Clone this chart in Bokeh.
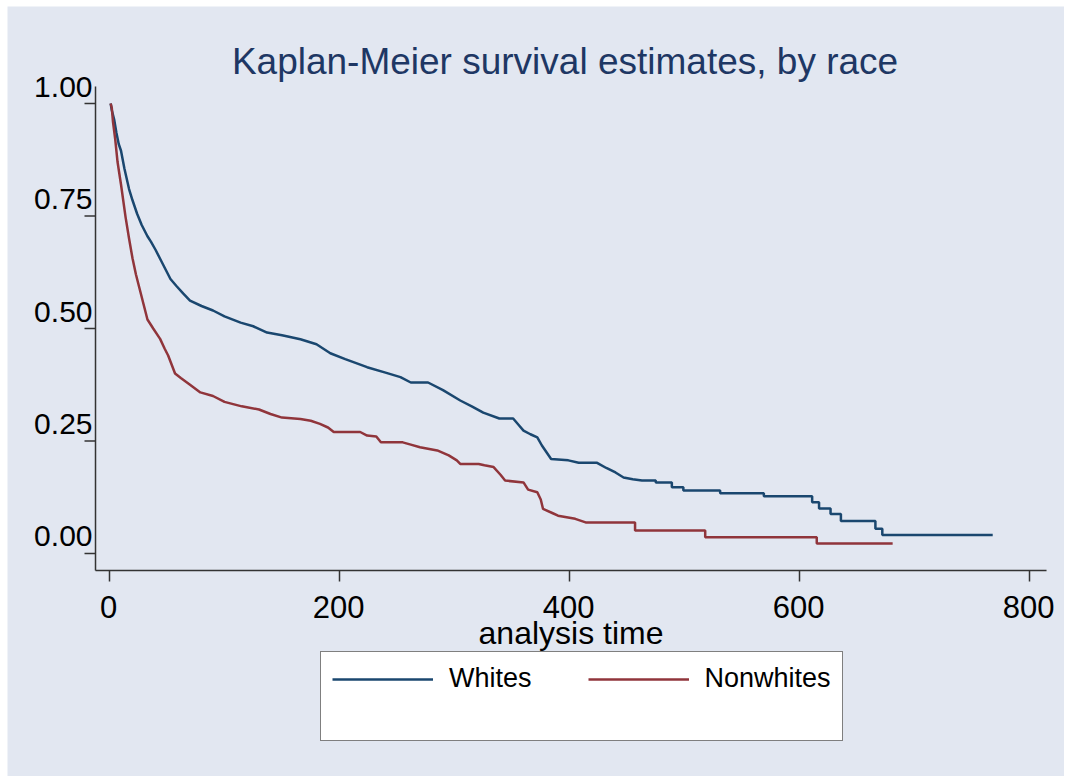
import math
from bokeh.plotting import figure
from bokeh.models import Range1d, Legend, LegendItem, Spacer
from bokeh.core.properties import value
from bokeh.layouts import row, column
from bokeh.embed import file_html
from bokeh.resources import INLINE

# ---- data: vertices of the Kaplan-Meier curves ----
WHITES_T = [1, 2, 4, 6, 8, 10, 13, 17, 20, 24, 28, 33, 36, 40, 45, 50, 53, 58, 64, 70,
            80, 90, 100, 114, 125, 137, 150, 166, 180, 192, 205, 224, 240, 253, 262, 277,
            290, 305, 315, 325, 339, 351, 356, 360, 366, 372, 376, 380, 384, 399, 408, 424,
            432, 440, 447, 455, 463, 475, 475, 489, 489, 499, 499, 531, 531, 569, 569,
            611, 611, 617, 617, 627, 627, 636, 636, 666, 666, 672, 672, 768]
WHITES_S = [1.0, 0.985, 0.965, 0.935, 0.91, 0.895, 0.855, 0.81, 0.785, 0.755, 0.73, 0.705,
            0.693, 0.675, 0.65, 0.625, 0.61, 0.595, 0.578, 0.562, 0.55, 0.54, 0.527, 0.513,
            0.505, 0.491, 0.485, 0.476, 0.465, 0.445, 0.432, 0.414, 0.402, 0.392, 0.38, 0.38,
            0.363, 0.34, 0.327, 0.313, 0.30, 0.30, 0.285, 0.273, 0.265, 0.258, 0.24, 0.225,
            0.21, 0.207, 0.2015, 0.2015, 0.19, 0.18, 0.169, 0.165, 0.162, 0.162, 0.158, 0.158,
            0.147, 0.147, 0.14, 0.14, 0.134, 0.134, 0.127, 0.127, 0.114, 0.114, 0.10, 0.10,
            0.088, 0.088, 0.072, 0.072, 0.055, 0.055, 0.041, 0.041]

NONWHITES_T = [1, 2, 3, 5, 7, 10, 14, 17, 20, 23, 26, 30, 33, 38, 44, 48, 51, 54, 57, 62,
               70, 79, 90, 100, 115, 130, 140, 150, 166, 175, 183, 190, 195, 218, 224, 232,
               236, 255, 262, 270, 285, 295, 302, 305, 321, 326, 334, 340, 344, 360, 364,
               372, 375, 377, 385, 390, 405, 414, 457, 457, 518, 518, 615, 615, 681]
NONWHITES_S = [1.0, 0.99, 0.96, 0.92, 0.87, 0.82, 0.747, 0.70, 0.656, 0.62, 0.59, 0.55,
               0.52, 0.50, 0.477, 0.455, 0.44, 0.42, 0.40, 0.39, 0.375, 0.358, 0.35, 0.337,
               0.327, 0.32, 0.31, 0.302, 0.299, 0.295, 0.288, 0.28, 0.27, 0.27, 0.262, 0.26,
               0.247, 0.247, 0.242, 0.236, 0.229, 0.218, 0.207, 0.199, 0.199, 0.196, 0.192,
               0.175, 0.162, 0.158, 0.142, 0.136, 0.12, 0.099, 0.09, 0.084, 0.077, 0.069,
               0.069, 0.051, 0.051, 0.036, 0.036, 0.022, 0.022]

X_TICKS = [0, 200, 400, 600, 800]
X_TICK_LABELS = ["0", "200", "400", "600", "800"]
Y_TICKS = [0.0, 0.25, 0.5, 0.75, 1.0]
Y_TICK_LABELS = ["0.00", "0.25", "0.50", "0.75", "1.00"]
SERIES_NAMES = ["Whites", "Nonwhites"]
TITLE = "Kaplan-Meier survival estimates, by race"
X_LABEL = "analysis time"

BG = "#E2E7F1"
AXIS_COLOR = "#333333"
FONT = "Liberation Sans"
# the frame fills the whole figure; axes, title and legend are drawn inside it
X_START, X_END = -88.70, 830.43
Y_START, Y_END = -0.4956, 1.2156
AX_X0, AX_X1 = -12.17, 814.8        # x-axis extent (y axis sits at AX_X0)
AX_Y0, AX_Y1 = -0.0378, 1.0378      # y-axis extent (x axis sits at AX_Y0)
AX_XMID = (AX_X0 + AX_X1) / 2

p = figure(width=1057, height=770, output_backend="svg", toolbar_location=None,
           x_range=Range1d(X_START, X_END), y_range=Range1d(Y_START, Y_END),
           x_axis_location=None, y_axis_location=None)
p.min_border_left = 0
p.min_border_right = 0
p.min_border_top = 0
p.min_border_bottom = 0
p.background_fill_color = BG
p.border_fill_color = BG
p.outline_line_color = None
p.xgrid.visible = False
p.ygrid.visible = False

# title
p.text(x=[AX_XMID], y=[AX_Y1], text=[TITLE], x_offset=-6, y_offset=-25,
       text_align="center", text_baseline="middle", text_font=value(FONT),
       text_font_size="37px", text_color="#1E3764")

# axis lines
p.segment(x0=[AX_X0, AX_X0], y0=[AX_Y0, AX_Y0], x1=[AX_X1, AX_X0], y1=[AX_Y0, AX_Y1],
          line_color=AXIS_COLOR, line_width=1.5)
# y ticks + labels
p.ray(x=[AX_X0] * len(Y_TICKS), y=Y_TICKS, length=11, length_units="screen",
      angle=math.pi, line_color=AXIS_COLOR, line_width=1.5)
p.text(x=[AX_X0] * len(Y_TICKS), y=Y_TICKS, text=Y_TICK_LABELS, x_offset=-3, y_offset=-17,
       text_align="right", text_baseline="middle", text_font=value(FONT),
       text_font_size="30px", text_color="black")
# x ticks + labels
p.ray(x=X_TICKS, y=[AX_Y0] * len(X_TICKS), length=11, length_units="screen",
      angle=-math.pi / 2, line_color=AXIS_COLOR, line_width=1.5)
p.text(x=X_TICKS, y=[AX_Y0] * len(X_TICKS), text=X_TICK_LABELS, x_offset=-1, y_offset=36,
       text_align="center", text_baseline="middle", text_font=value(FONT),
       text_font_size="31px", text_color="black")
p.text(x=[AX_XMID], y=[AX_Y0], text=[X_LABEL], y_offset=62,
       text_align="center", text_baseline="middle", text_font=value(FONT),
       text_font_size="32px", text_color="black")

r_w = p.line(WHITES_T, WHITES_S, line_color="#1A476F", line_width=2.5)
r_n = p.line(NONWHITES_T, NONWHITES_S, line_color="#90353B", line_width=2.5)

legend = Legend(items=[LegendItem(label=SERIES_NAMES[0], renderers=[r_w]),
                       LegendItem(label=SERIES_NAMES[1], renderers=[r_n])],
                location=(313, 35), orientation="horizontal",
                glyph_width=101, glyph_height=20, label_standoff=16, spacing=56,
                padding=11, margin=0,
                label_text_font=FONT, label_text_font_size="27px", label_text_color="black",
                border_line_color="black", border_line_width=1,
                background_fill_color="white", background_fill_alpha=1.0)
if "title_location" in Legend.properties():
    legend.title = " "
    legend.title_location = "below"
    legend.title_text_font_size = "22px"
    legend.title_standoff = 9
p.add_layout(legend)

layout = row(Spacer(width=7), column(Spacer(height=6), p))
open("out.html", "w").write(file_html(layout, INLINE))
